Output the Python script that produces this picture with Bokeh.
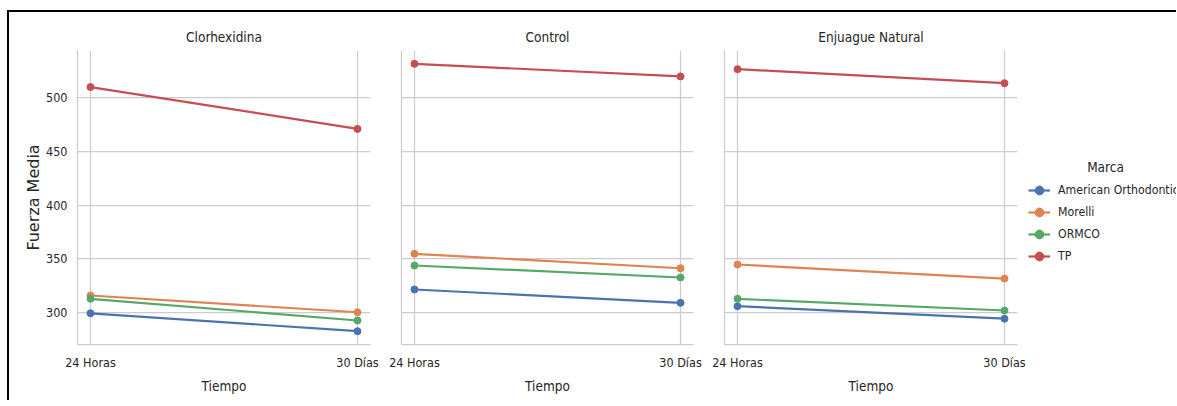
from bokeh.plotting import figure
from bokeh.layouts import row
from bokeh.models import Range1d, FixedTicker, Legend, LegendItem, Label
from bokeh.embed import file_html
from bokeh.resources import INLINE

# ---- data ----
tiempos = ["24 Horas", "30 Días"]
tratamientos = ["Clorhexidina", "Control", "Enjuague Natural"]
marcas = ["American Orthodontics", "Morelli", "ORMCO", "TP"]
# values ordered: [Clorhexidina 24h, 30d, Control 24h, 30d, Enjuague Natural 24h, 30d]
american = [299.0, 282.3, 321.2, 308.8, 305.6, 294.0]
morelli = [315.6, 300.0, 354.5, 341.0, 344.5, 331.4]
ormco = [312.5, 292.3, 343.6, 332.4, 312.5, 301.6]
tp = [510.0, 471.0, 531.7, 519.9, 526.7, 513.6]
series = [american, morelli, ormco, tp]
colores = ["#4C72B0", "#DD8452", "#55A868", "#C44E52"]
y_ticks = [300, 350, 400, 450, 500]

FONT = "DejaVu Sans Condensed"
TXT = "#262626"
GRID = "#cccccc"

x_idx = list(range(len(tiempos)))

# layout (px)
frame_h = 294
top_b = 38
bot_b = 56
fig_h = top_b + frame_h + bot_b
borders = [(68, 293, 10), (21, 292, 10), (21, 293, 10)]

figs = []
for k, trat in enumerate(tratamientos):
    lb, fw, rb = borders[k]
    p = figure(width=lb + fw + rb, height=fig_h,
               output_backend="svg", toolbar_location=None,
               x_range=Range1d(-0.0487, 1.0487), y_range=Range1d(269.9, 544.1),
               min_border_left=lb, min_border_right=rb,
               min_border_top=top_b, min_border_bottom=bot_b,
               title=trat)
    p.outline_line_color = None
    p.background_fill_color = "white"
    p.border_fill_color = "white"
    p.title.align = "center"
    p.title.text_font = FONT
    p.title.text_font_size = "13.5px"
    p.title.text_font_style = "normal"
    p.title.text_color = TXT
    p.title.standoff = 12

    p.xaxis.ticker = FixedTicker(ticks=x_idx)
    p.xaxis.major_label_overrides = {i: t for i, t in enumerate(tiempos)}
    p.yaxis.ticker = FixedTicker(ticks=y_ticks)
    for ax in (p.xaxis[0], p.yaxis[0]):
        ax.axis_line_color = GRID
        ax.axis_line_width = 1.25
        ax.major_tick_line_color = None
        ax.minor_tick_line_color = None
        ax.major_tick_out = 0
        ax.major_tick_in = 0
        ax.major_label_text_font = FONT
        ax.major_label_text_font_size = "12.5px"
        ax.major_label_text_color = TXT
        ax.axis_label_text_color = TXT
        ax.axis_label_text_font_style = "normal"
    p.xaxis.major_label_standoff = 10
    p.xaxis.axis_label = "Tiempo"
    p.xaxis.axis_label_text_font = FONT
    p.xaxis.axis_label_text_font_size = "13.5px"
    p.xaxis.axis_label_standoff = 5
    p.yaxis.major_label_standoff = 10
    if k == 0:
        p.yaxis.axis_label = "Fuerza Media"
        p.yaxis.axis_label_text_font = "DejaVu Sans"
        p.yaxis.axis_label_text_font_size = "16px"
        p.yaxis.axis_label_standoff = 0
    else:
        p.yaxis.major_label_overrides = {t: "" for t in y_ticks}

    p.xgrid.ticker = FixedTicker(ticks=x_idx)
    p.ygrid.ticker = FixedTicker(ticks=y_ticks)
    for g in (p.xgrid[0], p.ygrid[0]):
        g.grid_line_color = GRID
        g.grid_line_width = 1.25

    for s, vals in enumerate(series):
        yv = vals[2 * k:2 * k + 2]
        p.line(x_idx, yv, line_color=colores[s], line_width=2.2)
        p.scatter(x_idx, yv, size=7, fill_color=colores[s], line_color=colores[s])
    figs.append(p)

# legend panel: same series, drawn outside its (0..1) view so only the legend shows
leg_w = 149
pl = figure(width=leg_w, height=fig_h, output_backend="svg", toolbar_location=None,
            x_range=Range1d(0, 1), y_range=Range1d(0, 1),
            min_border_left=0, min_border_right=0,
            min_border_top=top_b, min_border_bottom=bot_b)
pl.axis.visible = False
pl.grid.visible = False
pl.outline_line_color = None
pl.background_fill_color = "white"
pl.border_fill_color = "white"
items = []
for s, m in enumerate(marcas):
    vals = series[s][0:2]
    ln = pl.line(x_idx, vals, line_color=colores[s], line_width=2.2)
    sc = pl.scatter(x_idx, vals, size=6, fill_color=colores[s], line_color=colores[s])
    items.append(LegendItem(label=m, renderers=[ln, sc]))
legend = Legend(items=items, location=(1, 77),
                padding=0, margin=0, spacing=0,
                glyph_width=22, glyph_height=22, label_height=22,
                label_standoff=8,
                label_text_font=FONT, label_text_font_size="12.2px",
                label_text_color=TXT,
                border_line_color=None, background_fill_alpha=0)
pl.add_layout(legend)
pl.add_layout(Label(x=78, y=178, x_units="screen", y_units="screen",
                    text="Marca", text_align="center", text_baseline="middle",
                    text_font=FONT, text_font_size="13.5px", text_color=TXT))
figs.append(pl)

layout = row(*figs, spacing=0, margin=(10, 0, 0, 7),
             styles={"border-top": "2px solid black", "border-left": "2px solid black"})

open("out.html", "w").write(file_html(layout, INLINE))
